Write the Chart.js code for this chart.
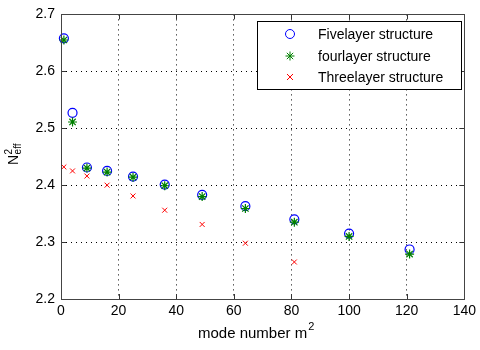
<!DOCTYPE html>
<html>
<head>
<meta charset="utf-8">
<script src="https://cdn.jsdelivr.net/npm/chart.js@4.4.0/dist/chart.umd.min.js"></script>
<style>
  html, body { margin: 0; padding: 0; background: #fff; }
  canvas { display: block; }
</style>
</head>
<body>
<canvas id="chart" width="480" height="350"></canvas>
<script>
// mode number m^2
const modeNumbers = [1, 4, 9, 16, 25, 36, 49, 64, 81, 100, 121];
// effective index squared per structure
const fiveLayer = [2.658, 2.527, 2.431, 2.425, 2.415, 2.401, 2.383, 2.363, 2.340, 2.315, 2.287];
const fourLayer = [2.655, 2.511, 2.430, 2.423, 2.414, 2.399, 2.380, 2.359, 2.335, 2.310, 2.279];
const threeModes = [1, 4, 9, 16, 25, 36, 49, 64, 81];
const threeLayer = [2.432, 2.425, 2.416, 2.400, 2.381, 2.356, 2.331, 2.298, 2.265];

const xTicks = [0, 20, 40, 60, 80, 100, 120, 140];
const yTicks = [2.2, 2.3, 2.4, 2.5, 2.6, 2.7];

const legendLabels = ['Fivelayer structure', 'fourlayer structure', 'Threelayer structure'];

const FONT = '"Liberation Sans", Arial, Helvetica, sans-serif';

function pts(xs, ys) {
    return xs.map((x, i) => ({ x: x, y: ys[i] }));
}

// box, inward ticks, axis titles and the legend, matlab style
const decorations = {
    id: 'decorations',
    afterDraw(chart) {
        const ctx = chart.ctx;
        const area = chart.chartArea;
        const xs = chart.scales.x;
        const ys = chart.scales.y;
        ctx.save();

        // inward tick marks on all four sides
        ctx.strokeStyle = '#333';
        ctx.lineWidth = 1;
        ctx.beginPath();
        xTicks.forEach(v => {
            const px = Math.round(xs.getPixelForValue(v)) + 0.5;
            ctx.moveTo(px, area.bottom); ctx.lineTo(px, area.bottom - 5);
            ctx.moveTo(px, area.top); ctx.lineTo(px, area.top + 5);
        });
        yTicks.forEach(v => {
            const py = Math.round(ys.getPixelForValue(v)) + 0.5;
            ctx.moveTo(area.left, py); ctx.lineTo(area.left + 5, py);
            ctx.moveTo(area.right, py); ctx.lineTo(area.right - 5, py);
        });
        ctx.stroke();

        // axes box
        ctx.strokeStyle = '#444';
        ctx.strokeRect(Math.round(area.left) + 0.5, Math.round(area.top) + 0.5,
            Math.round(area.right - area.left), Math.round(area.bottom - area.top));

        // x axis title with superscript
        ctx.fillStyle = '#000';
        ctx.textBaseline = 'alphabetic';
        ctx.textAlign = 'left';
        ctx.font = '15px ' + FONT;
        const main = 'mode number m';
        const w1 = ctx.measureText(main).width;
        const x0 = 198;
        ctx.fillText(main, x0, 338);
        ctx.font = '11px ' + FONT;
        ctx.fillText('2', x0 + w1 + 1, 330);

        // y axis title: N with stacked 2 / eff
        ctx.save();
        ctx.translate(18, 165);
        ctx.rotate(-Math.PI / 2);
        ctx.font = '14px ' + FONT;
        ctx.fillText('N', 0, 0);
        const nw = ctx.measureText('N').width;
        ctx.font = '10px ' + FONT;
        ctx.fillText('2', nw + 0.5, -6);
        ctx.fillText('eff', nw + 0.5, 3);
        ctx.restore();

        // legend
        const lx = 257.5, ly = 21.5, lw = 204, lh = 68;
        ctx.fillStyle = '#fff';
        ctx.fillRect(lx, ly, lw, lh);
        ctx.strokeStyle = '#000';
        ctx.strokeRect(lx, ly, lw, lh);
        const rows = [34, 56, 77];
        const mx = 290;
        // circle
        ctx.strokeStyle = '#0000ff';
        ctx.beginPath();
        ctx.arc(mx, rows[0], 4.5, 0, Math.PI * 2);
        ctx.stroke();
        // asterisk
        ctx.strokeStyle = '#008000';
        ctx.beginPath();
        for (let k = 0; k < 4; k++) {
            const a = k * Math.PI / 4;
            ctx.moveTo(mx - 4.5 * Math.cos(a), rows[1] - 4.5 * Math.sin(a));
            ctx.lineTo(mx + 4.5 * Math.cos(a), rows[1] + 4.5 * Math.sin(a));
        }
        ctx.stroke();
        // cross
        ctx.strokeStyle = '#ff0000';
        ctx.beginPath();
        ctx.moveTo(mx - 3, rows[2] - 3); ctx.lineTo(mx + 3, rows[2] + 3);
        ctx.moveTo(mx + 3, rows[2] - 3); ctx.lineTo(mx - 3, rows[2] + 3);
        ctx.stroke();

        ctx.fillStyle = '#000';
        ctx.font = '14px ' + FONT;
        ctx.textBaseline = 'middle';
        legendLabels.forEach((t, i) => ctx.fillText(t, 318, rows[i] + 1));

        ctx.restore();
    }
};

const data = {
    datasets: [
        {
            label: legendLabels[1],
            data: pts(modeNumbers, fourLayer),
            pointStyle: 'star',
            pointRadius: 4.5,
            borderColor: '#008000',
            backgroundColor: '#008000',
            pointBorderWidth: 1.2,
            order: 0,
            clip: false,
        },
        {
            label: legendLabels[0],
            data: pts(modeNumbers, fiveLayer),
            pointStyle: 'circle',
            pointRadius: 4.5,
            borderColor: '#0000ff',
            backgroundColor: 'rgba(0,0,0,0)',
            pointBorderWidth: 1.2,
            order: 1,
            clip: false,
        },
        {
            label: legendLabels[2],
            data: pts(threeModes, threeLayer),
            pointStyle: 'crossRot',
            pointRadius: 3.5,
            borderColor: '#ff0000',
            backgroundColor: '#ff0000',
            pointBorderWidth: 1,
            order: 2,
            clip: false,
        },
    ],
};

const config = {
    type: 'scatter',
    data: data,
    options: {
        responsive: false,
        animation: false,
        layout: { padding: { left: 0, top: 12, right: 11, bottom: 0 } },
        plugins: {
            legend: { display: false },
            tooltip: { enabled: false },
        },
        scales: {
            x: {
                type: 'linear',
                min: 0,
                max: 140,
                afterBuildTicks: (scale) => { scale.ticks = xTicks.map(v => ({ value: v })); },
                afterFit: (scale) => { scale.height = 51; },
                ticks: {
                    color: '#000',
                    font: { family: FONT, size: 14 },
                    padding: 4,
                    maxRotation: 0,
                },
                grid: { color: '#000', lineWidth: 1, drawTicks: false },
                border: { display: false, dash: [1, 4] },
            },
            y: {
                type: 'linear',
                min: 2.2,
                max: 2.7,
                afterBuildTicks: (scale) => { scale.ticks = yTicks.map(v => ({ value: v })); },
                afterFit: (scale) => { scale.width = 61; },
                ticks: {
                    color: '#000',
                    font: { family: FONT, size: 14 },
                    padding: 6,
                    callback: (v) => v.toFixed(1),
                },
                grid: { color: '#000', lineWidth: 1, drawTicks: false },
                border: { display: false, dash: [1, 4] },
            },
        },
    },
    plugins: [decorations],
};

new Chart(document.getElementById('chart').getContext('2d'), config);
</script>
</body>
</html>
